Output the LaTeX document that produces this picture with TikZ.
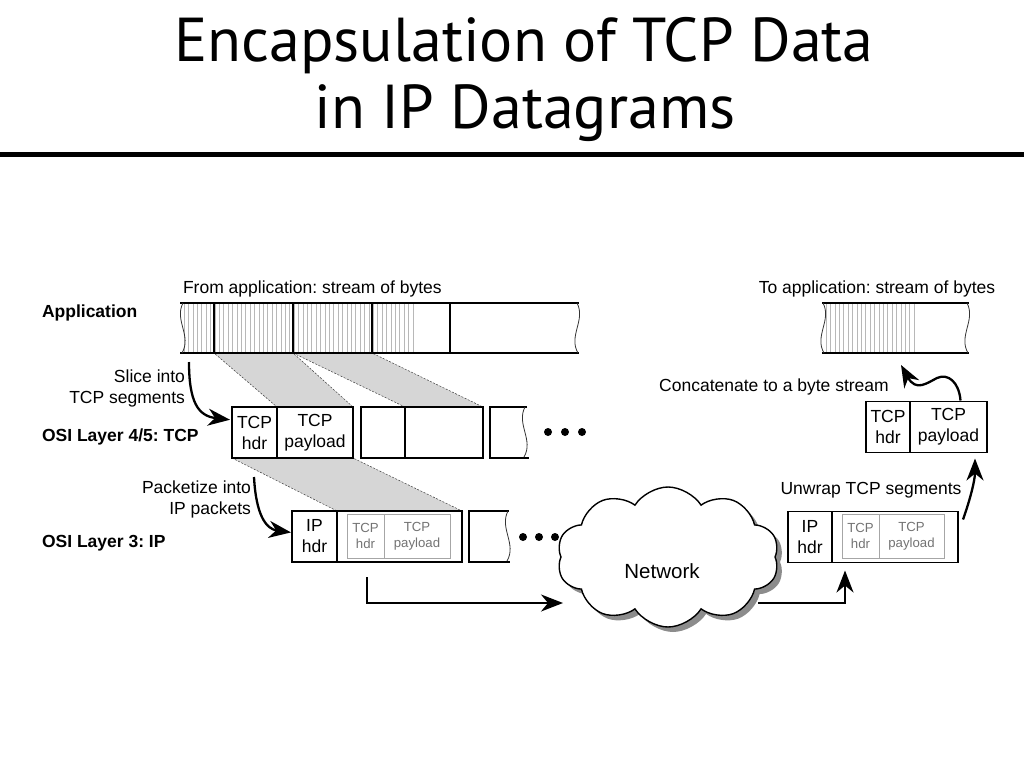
\documentclass[tikz,border=0pt]{standalone}
\usepackage{fontspec}
\setmainfont{Liberation Sans}
\newfontfamily\titlefont{PT Sans}
\usetikzlibrary{arrows.meta,shapes.symbols,shadows,calc,backgrounds}
\newcommand\bodyfont{\fontsize{17.5}{21}\selectfont}
\newcommand\smallfont{\fontsize{13.2}{16}\selectfont}
\newcommand\netfont{\fontsize{20.5}{24}\selectfont}
\frenchspacing
\begin{document}
\frenchspacing
\begin{tikzpicture}[x=1pt,y=-1pt,
  every node/.style={font=\bodyfont, inner sep=0pt, outer sep=0pt},
  box/.style={draw, line width=1.5pt, align=center, minimum height=51},
  gbox/.style={draw=black!35, line width=0.9pt, align=center, text=black!55, font=\smallfont, minimum height=44},
  seg/.style={draw, line width=1.6pt, minimum height=50},
  trap/.style={fill=black!16, draw=black!75, line width=0.5pt, dash pattern=on 2pt off 1.5pt},
  hatch/.style={draw=black!28, line width=0.6pt},
  wavy/.style={draw=black!80, line width=0.8pt},
  rail/.style={line width=1.9pt},
  arr/.style={line width=2.3pt, -{Stealth[length=22pt,width=17pt,inset=7pt]}},
  elbow/.style={line width=2pt, -{Stealth[length=22pt,width=17pt,inset=7pt]}},
  boldlbl/.style={font=\bodyfont\bfseries, anchor=west},
  dot/.style={circle, fill, minimum size=8pt},
  squigR/.pic={\draw[wavy] (0,0) .. controls (9,17) and (-9,33) .. (1,50);},
  squigL/.pic={\draw[wavy] (0,0) .. controls (-9,17) and (9,33) .. (-1,50);}
]
\useasboundingbox (0,0) rectangle (1024,768);

% title
\node[font=\titlefont\fontsize{62}{70}\selectfont, anchor=base] (t1) at (524,62) {Encapsulation of TCP Data};
\node[font=\titlefont\fontsize{62}{70}\selectfont, anchor=base] (t2) at (525,128) {in IP Datagrams};
\fill (0,152) rectangle (1024,157);

% ---------- application stream (left)
\foreach \x in {184,188.4,...,416} \draw[hatch] (\x,304) -- (\x,352);
\node[seg, minimum width=79] (seg1) at (253.5,328) {};
\node[seg, minimum width=79] (seg2) at (332.5,328) {};
\node[seg, minimum width=78] (seg3) at (411,328) {};
\draw[rail] (180,303) -- (579,303);
\draw[rail] (180,353) -- (579,353);
\pic at (183,303) {squigL};
\pic at (577,303) {squigR};

% ---------- TCP layer (left)
\node[box, minimum width=45] (thdr) at (254.5,432.5) {TCP\\hdr};
\node[box, minimum width=76, anchor=west] (tpay) at (thdr.east) {TCP\\payload};
\node[box, minimum width=44] (s2a) at (383,432.5) {};
\node[box, minimum width=78, anchor=west] (s2b) at (s2a.east) {};
\draw[line width=1.5pt] (527,407) -- (490,407) -- (490,458) -- (529,458);
\pic at (525,407) {squigL};
\node[dot] (d1) at (548,432) {};
\node[dot] (d2) at (565,432) {};
\node[dot] (d3) at (582,432) {};

% ---------- IP layer (left)
\node[box, minimum width=45] (iphdr) at (314.5,536.5) {IP\\hdr};
\node[box, minimum width=125, anchor=west] (ippay) at (iphdr.east) {};
\node[gbox, minimum width=37] (ith) at (365.5,536) {TCP\\hdr};
\node[gbox, minimum width=66, anchor=west] (itp) at (ith.east) {TCP\\payload};
\draw[line width=1.5pt] (509,511) -- (469,511) -- (469,562) -- (510,562);
\pic at (508,511) {squigL};
\node[dot] (d4) at (523,537) {};
\node[dot] (d5) at (539,537) {};
\node[dot] (d6) at (555,537) {};

% ---------- trapezoids
\begin{scope}[on background layer]
\fill[white] (0,0) rectangle (1024,768);
\draw[trap] (seg1.south west) -- (seg1.south east) -- (tpay.north east) -- (tpay.north west) -- cycle;
\draw[trap] (seg2.south west) -- (seg2.south east) -- (s2b.north east) -- (s2b.north west) -- cycle;
\draw[trap] (thdr.south west) -- (tpay.south east) -- (ippay.north east) -- (ippay.north west) -- cycle;
\end{scope}

% ---------- network cloud
\node[cloud, cloud puffs=10, cloud puff arc=115, aspect=1.6, draw, fill=white, line width=1.4pt,
      minimum width=222, minimum height=140,
      drop shadow={shadow xshift=5pt, shadow yshift=-5pt, fill=black!45, opacity=1}] (net) at (668,557) {};
\node[font=\netfont] (lnet) at (662,571) {Network};

% ---------- right side
\node[box, minimum width=44] (rhdr) at (810,537) {IP\\hdr};
\node[box, minimum width=126, anchor=west] (rpay) at (rhdr.east) {};
\node[gbox, minimum width=37] (rth) at (860.5,536) {TCP\\hdr};
\node[gbox, minimum width=65, anchor=west] (rtp) at (rth.east) {TCP\\payload};

\node[box, minimum width=44] (rthdr) at (888,427) {TCP\\hdr};
\node[box, minimum width=77, anchor=west] (rtpay) at (rthdr.east) {TCP\\payload};

\foreach \x in {826,830.4,...,917} \draw[hatch] (\x,304) -- (\x,352);
\draw[rail] (822,303) -- (969,303);
\draw[rail] (822,353) -- (969,353);
\node[minimum width=148, minimum height=50] (rbar) at (895,328) {};
\pic at (823,303) {squigR};
\pic at (967,303) {squigR};

% ---------- labels
\node[anchor=west] (lfrom) at (183,289) {From application: stream of bytes};
\node (lto) at (877,289) {To application: stream of bytes};
\node[boldlbl] (lapp) at (42,313) {Application};
\node[align=right, anchor=east] (lslice) at (185,388) {Slice into\\TCP segments};
\node[boldlbl] (l45) at (42,437) {OSI Layer 4/5: TCP};
\node[align=right, anchor=east] (lpack) at (251,499) {Packetize into\\IP packets};
\node[boldlbl] (l3) at (42,543) {OSI Layer 3: IP};
\node (lcat) at (774,387) {Concatenate to a byte stream};
\node (lunw) at (871,490) {Unwrap TCP segments};

% ---------- arrows
\coordinate (c1) at (189,362);
\draw[arr] (c1) .. controls (189,402) and (198,416) .. ($(thdr.north west)!0.25!(thdr.south west)+(-2,0)$);
\coordinate (c2) at (254,477);
\draw[arr] (c2) .. controls (256,515) and (266,529) .. ($(iphdr.north west)!0.42!(iphdr.south west)+(-1,0)$);
\coordinate (c3) at (367,577);
\draw[elbow] (c3) |- ($(net.west)+(2,46)$);
\draw[elbow] ($(net.east)+(-17,46)$) -| ($(rhdr.south east)+(13,8)$);
\draw[arr] ($(rpay.north east)+(5,8)$) .. controls (970,500) and (975,480) .. ($(rtpay.south east)+(-12,6)$);
\draw[arr] ($(rtpay.north)+(12,-1)$) .. controls (959,382) and (948,373) .. (937,378)
   .. controls (927,383) and (916,392) .. ($(rbar.south west)+(80,12)$);
\end{tikzpicture}
\end{document}
